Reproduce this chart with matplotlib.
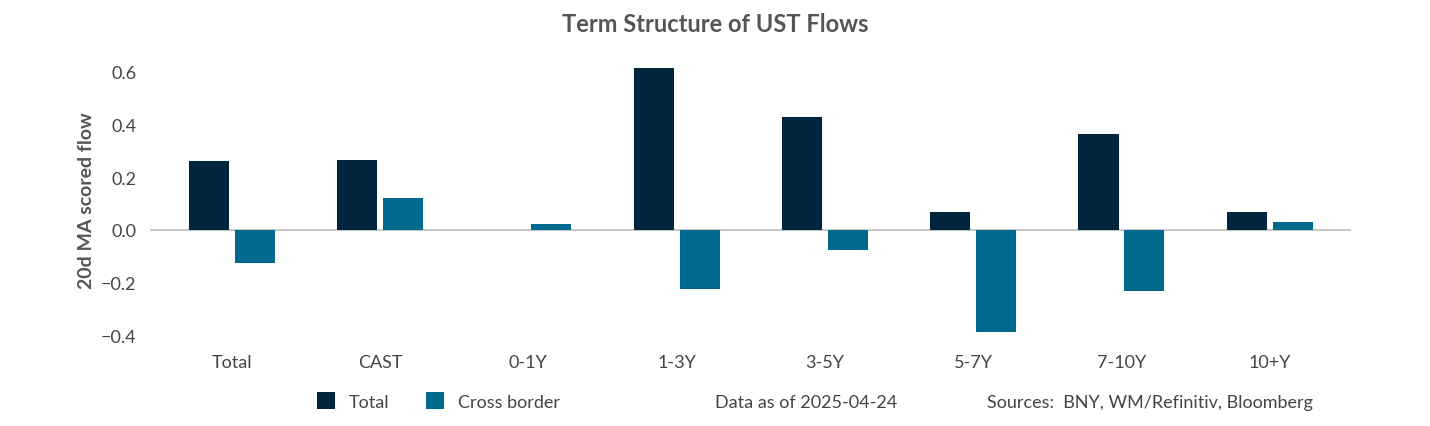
import matplotlib.pyplot as plt
import numpy as np

plt.rcParams['font.family'] = 'Lato'

categories = ['Total', 'CAST', '0-1Y', '1-3Y', '3-5Y', '5-7Y', '7-10Y', '10+Y']
total = [0.262, 0.265, 0.0, 0.616, 0.43, 0.067, 0.366, 0.067]
cross_border = [-0.127, 0.12, 0.022, -0.224, -0.075, -0.388, -0.231, 0.03]

fig = plt.figure(figsize=(14.3, 4.27), dpi=100)
ax = fig.add_axes([0.105, 0.2, 0.84, 0.66])

x = np.arange(len(categories))
w = 0.27
ax.bar(x - 0.155, total, w, color='#00263e', label='Total')
ax.bar(x + 0.155, cross_border, w, color='#006a8e', label='Cross border')
ax.axhline(0, color='#c8c8c8', lw=1.5, zorder=0)

ax.set_xlim(-0.55, 7.55)
ax.set_ylim(-0.42, 0.65)
ax.set_yticks([-0.4, -0.2, 0.0, 0.2, 0.4, 0.6])
ax.set_yticklabels(['\u22120.4', '\u22120.2', '0.0', '0.2', '0.4', '0.6'])
ax.set_xticks(x)
ax.set_xticklabels(categories)
ax.tick_params(length=0, labelsize=13, colors='#444444', pad=10)
for s in ax.spines.values():
    s.set_visible(False)
ax.set_ylabel('20d MA scored flow', fontsize=14, fontweight='bold', color='#555555')

fig.suptitle('Term Structure of UST Flows', x=0.5, y=0.97, fontsize=17,
             fontweight='bold', color='#555555')

fig.legend(loc='lower left', bbox_to_anchor=(0.21, 0.0), ncol=2, frameon=False,
           fontsize=13, handlelength=1.0, handleheight=1.0, columnspacing=2.0,
           labelcolor='#444444')
fig.text(0.5, 0.045, 'Data as of 2025-04-24', fontsize=13, color='#444444')
fig.text(0.69, 0.045, 'Sources:  BNY, WM/Refinitiv, Bloomberg', fontsize=13, color='#444444')

fig.savefig('out.png', dpi=100)
